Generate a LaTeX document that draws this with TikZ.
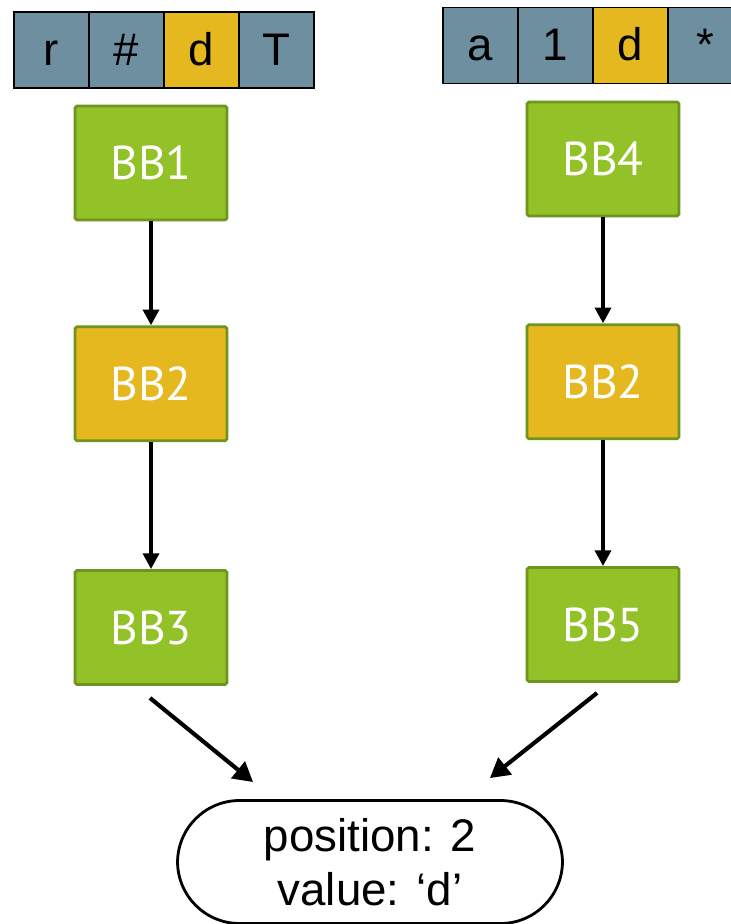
\documentclass[tikz,border=0pt]{standalone}
\usepackage{fontspec}
\setmainfont{Liberation Sans}
\newfontfamily\bbfont{PT Sans}
\usetikzlibrary{arrows.meta, positioning}

\definecolor{cellblue}{HTML}{6E8FA0}
\definecolor{cellgold}{HTML}{E5B820}
\definecolor{bbgreen}{HTML}{93C128}
\definecolor{bbedge}{HTML}{6E961E}

\tikzset{
  cell/.style={draw=black, line width=1.1pt, minimum width=1.5cm, minimum height=1.52cm,
    inner sep=0pt, text height=17.5pt, text depth=0pt, font=\fontsize{26}{30}\selectfont},
  block/.style={draw=bbedge, line width=1.6pt, fill=bbgreen, rounded corners=1pt,
    minimum width=3.04cm, minimum height=2.28cm, inner sep=0pt, text=white,
    font=\bbfont\fontsize{27}{30}\selectfont},
  flow/.style={line width=2.3pt, -{Triangle[width=9pt,length=9pt]}},
  merge/.style={line width=2.3pt, -{Triangle[width=12pt,length=11pt]}},
  result/.style={draw=black, line width=1.6pt, rounded corners=1.24cm,
    minimum width=7.7cm, minimum height=2.46cm, align=center,
    font=\fontsize{26}{31}\selectfont}
}

\begin{document}
\begin{tikzpicture}[x=0.02cm, y=-0.02cm]
\useasboundingbox (0,0) rectangle (731,924);
\clip (0,0) rectangle (731,924);

% the two input strings
\foreach \ch/\col [count=\i] in {r/cellblue, \#/cellblue, d/cellgold, T/cellblue}
  \node[cell, fill=\col] (l\i) at ({-23.5+75*\i},50) {\ch};
\foreach \ch/\col [count=\i] in {a/cellblue, 1/cellblue, d/cellgold, */cellblue}
  \node[cell, fill=\col] (r\i) at ({405.5+75*\i},45.5) {\ch};

% left path
\node[block] (bb1) at (151,163) {BB1};
\node[block, fill=cellgold, below=2.08cm of bb1] (bb2l) {BB2};
\node[block, below=2.54cm of bb2l] (bb3) {BB3};

% right path
\node[block] (bb4) at (603,159) {BB4};
\node[block, fill=cellgold, below=2.12cm of bb4] (bb2r) {BB2};
\node[block, below=2.52cm of bb2r] (bb5) {BB5};

\draw[flow] (bb1) -- (bb2l);
\draw[flow] (bb2l) -- (bb3);
\draw[flow] (bb4) -- (bb2r);
\draw[flow] (bb2r) -- (bb5);

% both paths end in the same answer
\node[result] (res) at (370,862) {position: 2\\value: `d'};

\coordinate (lfrom) at (150,698);
\coordinate (lto) at (253,782);
\coordinate (rfrom) at (597,693);
\coordinate (rto) at (490,778);
\draw[merge, black!25, shift={(2,3)}] (lfrom) -- (lto);
\draw[merge, black!25, shift={(2,3)}] (rfrom) -- (rto);
\draw[merge] (lfrom) -- (lto);
\draw[merge] (rfrom) -- (rto);
\end{tikzpicture}
\end{document}
